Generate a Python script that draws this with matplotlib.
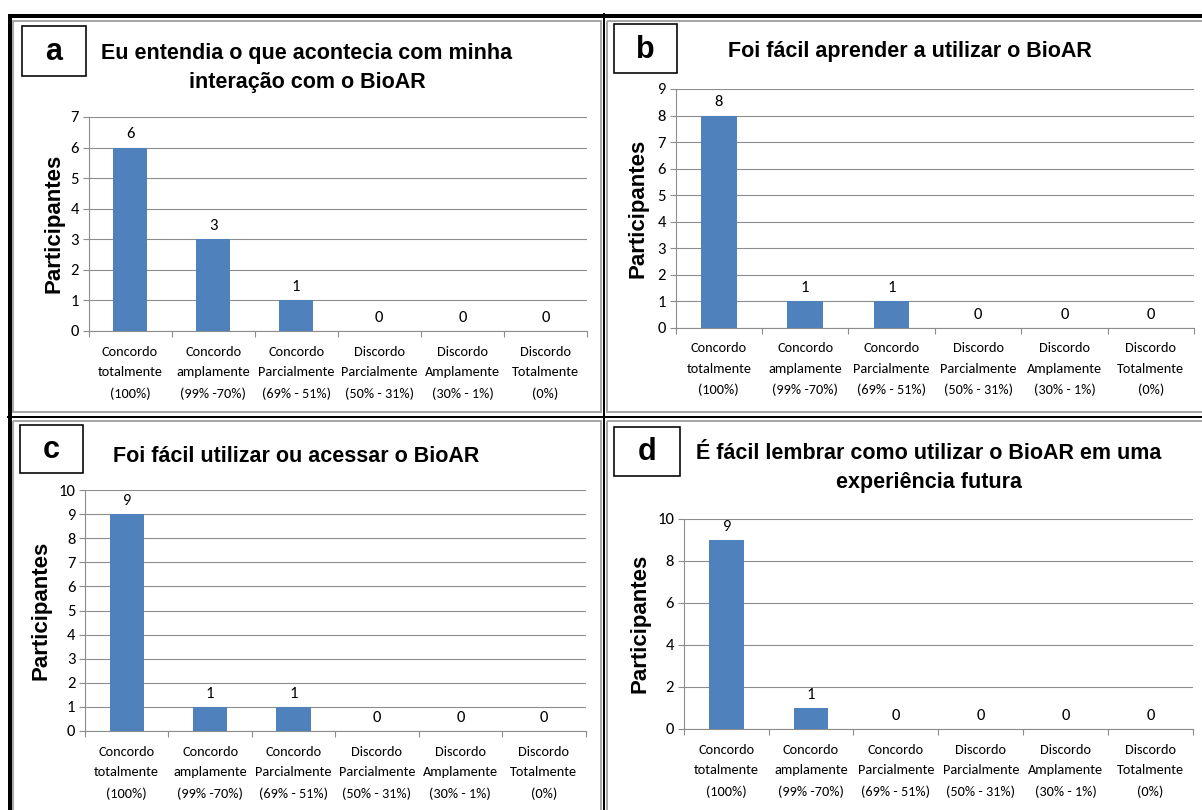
import matplotlib
matplotlib.use('Agg')
import matplotlib.pyplot as plt
from matplotlib import font_manager
from matplotlib.patches import Rectangle

# answer categories (same on every panel)
categories = [
    'Concordo\ntotalmente\n(100%)',
    'Concordo\namplamente\n(99% -70%)',
    'Concordo\nParcialmente\n(69% - 51%)',
    'Discordo\nParcialmente\n(50% - 31%)',
    'Discordo\nAmplamente\n(30% - 1%)',
    'Discordo\nTotalmente\n(0%)',
]

values_a = [6, 3, 1, 0, 0, 0]
values_b = [8, 1, 1, 0, 0, 0]
values_c = [9, 1, 1, 0, 0, 0]
values_d = [9, 1, 0, 0, 0, 0]

titles = [
    'Eu entendia o que acontecia com minha\ninteração com o BioAR',
    'Foi fácil aprender a utilizar o BioAR',
    'Foi fácil utilizar ou acessar o BioAR',
    'É fácil lembrar como utilizar o BioAR em uma\nexperiência futura',
]
letters = ['a', 'b', 'c', 'd']
ymax = [7, 9, 10, 10]
ystep = [1, 1, 1, 2]
ylabel = 'Participantes'

W, H = 1202, 810
BAR = '#4f81bd'
GRID = '#8c8c8c'

installed = {f.name for f in font_manager.fontManager.ttflist}
if 'Liberation Sans Narrow' in installed:
    TITLE_FONT, TITLE_SIZE = 'Liberation Sans Narrow', 19
else:
    TITLE_FONT, TITLE_SIZE = 'Liberation Sans', 15.5
if 'Carlito' in installed:
    BODY, TICK_SIZE, NUM_SIZE = 'Carlito', 10.3, 12
else:
    BODY, TICK_SIZE, NUM_SIZE = 'Lato', 9.5, 11.5

fig = plt.figure(figsize=(W / 100, H / 100), dpi=100)
fig.patch.set_facecolor('white')

# pixel overlay for frames, titles and boxes
frame = fig.add_axes([0, 0, 1, 1], zorder=0)
frame.set_xlim(0, W)
frame.set_ylim(H, 0)
frame.axis('off')

px = 0.72  # points per pixel at dpi 100

# grey chart borders
for (l, t, r, b) in [(13, 21, 601, 412), (607, 21, 1206, 412),
                     (13, 421, 601, 815), (607, 421, 1206, 815)]:
    frame.add_patch(Rectangle((l, t), r - l, b - t, fill=False,
                              ec='#a8a8a8', lw=2 * px))

# black outer frame and dividers
frame.plot([8, W], [15.5, 15.5], color='black', lw=4 * px, solid_capstyle='butt')
frame.plot([10, 10], [14, H], color='black', lw=4 * px, solid_capstyle='butt')
frame.plot([603.5, 603.5], [14, H], color='black', lw=2 * px)
frame.plot([8, W], [416.5, 416.5], color='black', lw=2 * px)

# axes boxes in pixels: left, top, right, bottom
boxes = [(88.5, 117, 587, 331), (675.6, 89, 1194, 327.7),
         (85, 490, 585.5, 731), (683.7, 519, 1193, 729)]
letter_boxes = [(22, 26, 86, 76), (614, 24, 677, 73),
                (20, 425, 83, 473), (614, 427, 680, 476)]
title_pos = [(307, 68), (910, 52), (296, 456), (929, 468)]
ylabel_pos = [(54, 223), (638, 208), (41, 610), (640, 623)]

series = [values_a, values_b, values_c, values_d]

for i, vals in enumerate(series):
    l, t, r, b = boxes[i]
    ax = fig.add_axes([l / W, 1 - b / H, (r - l) / W, (b - t) / H], zorder=1)
    ax.patch.set_alpha(0)
    x = [k + 0.5 for k in range(len(categories))]
    ax.bar(x, vals, width=0.41, color=BAR, zorder=3)
    ax.set_xlim(0, len(categories))
    ax.set_ylim(0, ymax[i])
    ax.set_yticks(range(0, ymax[i] + 1, ystep[i]))
    ax.set_yticklabels([str(v) for v in range(0, ymax[i] + 1, ystep[i])],
                       fontfamily=BODY, fontsize=NUM_SIZE)
    ax.yaxis.grid(True, color=GRID, lw=1.1 * px, zorder=0)
    ax.set_axisbelow(True)
    for s in ['top', 'right']:
        ax.spines[s].set_visible(False)
    for s in ['left', 'bottom']:
        ax.spines[s].set_color(GRID)
        ax.spines[s].set_linewidth(1.1 * px)
    ax.set_xticks(range(len(categories) + 1))
    ax.set_xticklabels([])
    ax.set_xticks(x, minor=True)
    ax.set_xticklabels(categories, minor=True, fontfamily=BODY,
                       fontsize=TICK_SIZE, linespacing=1.85)
    ax.tick_params(axis='x', which='major', length=4, color=GRID, direction='out')
    ax.tick_params(axis='x', which='minor', length=0, pad=10.5)
    ax.tick_params(axis='y', length=4, color=GRID, pad=3, labelcolor='black')
    ax.tick_params(axis='x', which='minor', labelcolor='black')
    for xv, v in zip(x, vals):
        ax.annotate(str(v), (xv, v), xytext=(0, 9.5), textcoords='offset points',
                    ha='center', va='center', fontfamily=BODY,
                    fontsize=NUM_SIZE, color='black')

    # title
    tx, ty = title_pos[i]
    frame.text(tx, ty, titles[i], ha='center', va='center', fontfamily=TITLE_FONT,
               fontweight='bold', fontsize=TITLE_SIZE, linespacing=1.5)
    # panel letter box
    bl, bt, br, bb = letter_boxes[i]
    frame.add_patch(Rectangle((bl, bt), br - bl, bb - bt, fill=False,
                              ec='black', lw=1.6 * px, zorder=5))
    frame.text((bl + br) / 2, (bt + bb) / 2 + 1, letters[i], ha='center',
               va='center', fontfamily='Liberation Sans', fontweight='bold',
               fontsize=22)
    # y label
    lx, ly = ylabel_pos[i]
    frame.text(lx, ly, ylabel, rotation=90, ha='center', va='center',
               fontfamily='Liberation Sans', fontweight='bold', fontsize=16)

fig.savefig('out.png', dpi=100, facecolor='white')
